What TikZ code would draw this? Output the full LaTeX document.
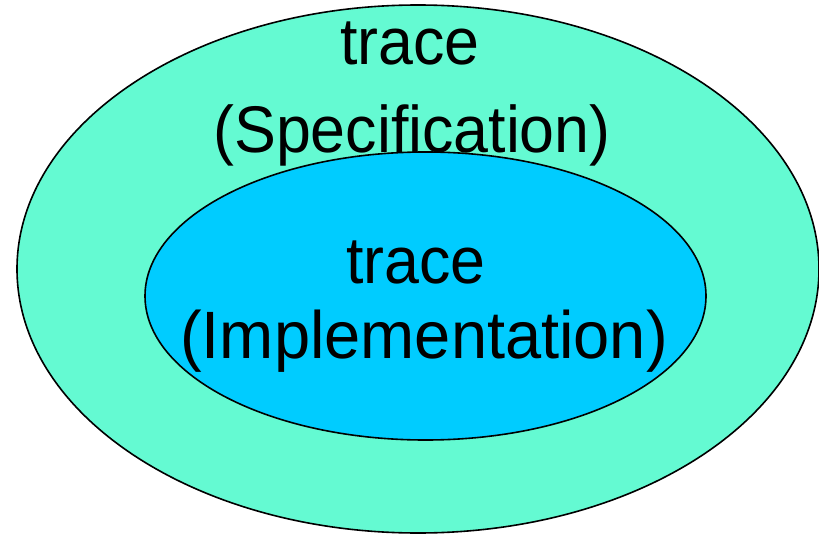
\documentclass[tikz,border=0pt]{standalone}
\usepackage{fontspec}
\setmainfont[FakeStretch=0.95]{Liberation Sans}
\newfontfamily\widerfont[FakeStretch=0.97]{Liberation Sans}
\usetikzlibrary{shapes.geometric}
\definecolor{specfill}{RGB}{100,250,210}
\definecolor{implfill}{RGB}{0,204,255}
\tikzset{
  region/.style={ellipse, draw=black, line width=1.6pt, inner sep=0pt},
  label/.style={anchor=base, inner sep=0pt, font=\fontsize{66}{66}\selectfont}
}
\begin{document}
\begin{tikzpicture}[x=1pt, y=-1pt]
  \useasboundingbox (0,0) rectangle (819,535);
  % outer set: specification traces
  \node[region, fill=specfill, minimum width=802pt, minimum height=528pt] (spec) at (418,269) {};
  % inner set: implementation traces
  \node[region, fill=implfill, minimum width=561pt, minimum height=288pt] (impl) at (425.5,296) {};
  % labels
  \node[label] (spectrace) at (410,64) {trace};
  \node[label] (specname) at (412,152) {(Specification)};
  \node[label] (impltrace) at (416,283) {trace};
  \node[label, font=\widerfont\fontsize{67}{67}\selectfont] (implname) at (424,358) {(Implementation)};
\end{tikzpicture}
\end{document}
